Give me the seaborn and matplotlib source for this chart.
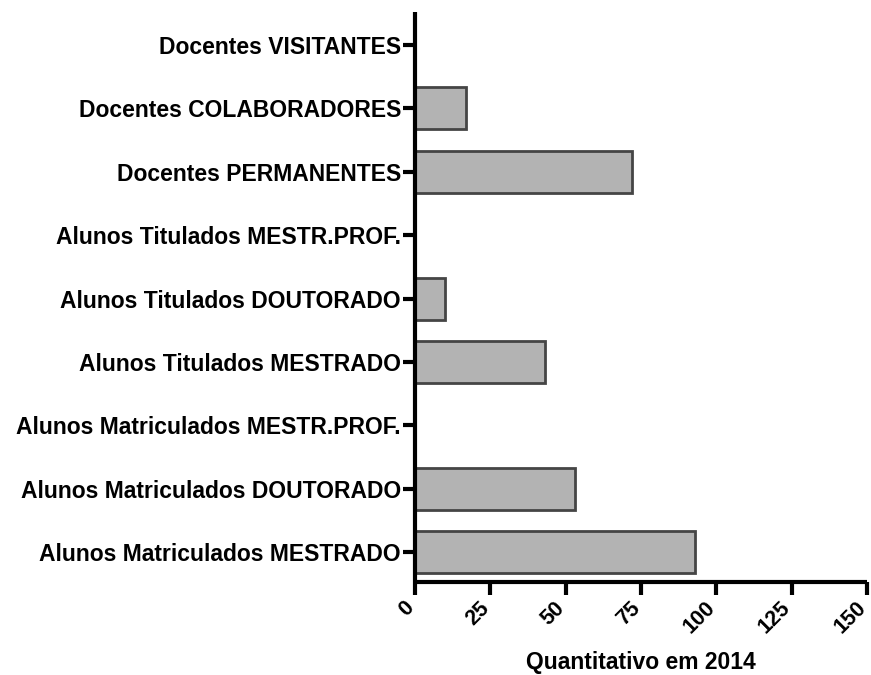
import matplotlib
matplotlib.use("Agg")
import matplotlib.pyplot as plt
import matplotlib.transforms as mtransforms
import seaborn as sns
import pandas as pd

categories = [
    "Docentes VISITANTES",
    "Docentes COLABORADORES",
    "Docentes PERMANENTES",
    "Alunos Titulados MESTR.PROF.",
    "Alunos Titulados DOUTORADO",
    "Alunos Titulados MESTRADO",
    "Alunos Matriculados MESTR.PROF.",
    "Alunos Matriculados DOUTORADO",
    "Alunos Matriculados MESTRADO",
]
values = [0, 17, 72, 0, 10, 43, 0, 53, 93]
x_ticks = [0, 25, 50, 75, 100, 125, 150]
x_label = "Quantitativo em 2014"

df = pd.DataFrame({"cat": categories, "val": values})

sns.set_style("ticks")
plt.rcParams["font.family"] = ["Liberation Sans", "DejaVu Sans"]
plt.rcParams["font.weight"] = "bold"
plt.rcParams["text.color"] = "black"
plt.rcParams["axes.labelcolor"] = "black"
plt.rcParams["xtick.color"] = "black"
plt.rcParams["ytick.color"] = "black"

fig = plt.figure(figsize=(8.71, 6.75), dpi=100)
ax = fig.add_axes([415 / 871, 1 - 582 / 675, (867 - 415) / 871, (582 - 12) / 675])

sns.barplot(data=df, x="val", y="cat", order=categories, orient="h",
            color="#b3b3b3", saturation=1, width=0.66,
            edgecolor="#454545", linewidth=2, ax=ax)

ax.set_xlim(0, 150)
ax.set_ylim(8.47, -0.52)
ax.set_xticks(x_ticks)
ax.set_xticklabels([])
# rotated tick labels, right end anchored just under each tick
offset = mtransforms.ScaledTranslation(-4 / 100, -23 / 100, fig.dpi_scale_trans)
for t in x_ticks:
    ax.text(t, 0, str(t), transform=ax.get_xaxis_transform() + offset,
            rotation=45, ha="right", va="center", rotation_mode="anchor",
            fontsize=15.5, fontweight="bold", color="black", clip_on=False)

ax.set_yticks(range(len(categories)))
ax.set_yticklabels(categories, fontsize=16.5, fontweight="bold")
ax.set_ylabel("")
ax.set_xlabel(x_label, fontsize=16.5, fontweight="bold", va="center")
ax.xaxis.set_label_coords(0.5, -0.142)

for s in ["top", "right"]:
    ax.spines[s].set_visible(False)
for s in ["left", "bottom"]:
    ax.spines[s].set_linewidth(3)
    ax.spines[s].set_color("black")
    ax.spines[s].set_capstyle("butt")
ax.tick_params(axis="both", width=3, length=9, color="black", labelcolor="black", direction="out")
ax.tick_params(axis="y", pad=1)

fig.savefig("out.png", dpi=100)
